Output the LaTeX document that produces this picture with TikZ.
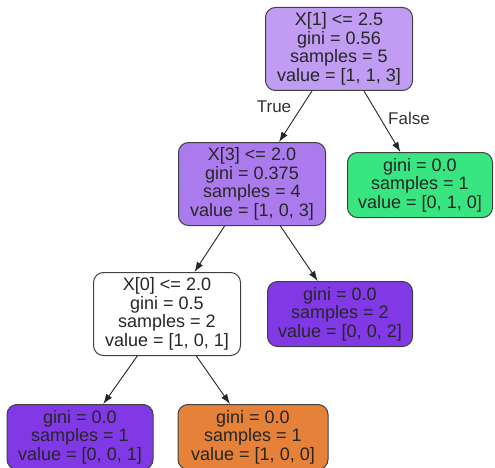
\documentclass[tikz,border=0pt]{standalone}
\usepackage{fontspec}
\setmainfont{Liberation Sans}
\usetikzlibrary{arrows.meta}
\definecolor{rootc}{HTML}{C09CF2}
\definecolor{midc}{HTML}{AB7BEE}
\definecolor{purc}{HTML}{8139E5}
\definecolor{grnc}{HTML}{39E581}
\definecolor{orgc}{HTML}{E58139}
\begin{document}
\begin{tikzpicture}[x=1pt,y=-1pt,
  tn/.style={draw=black!75, line width=1pt, rounded corners=10pt, align=center,
    inner sep=0pt, font=\fontsize{18}{18.5}\selectfont, text=black!85},
  nfour/.style={tn, minimum width=147pt, minimum height=83pt},
  nthree/.style={tn, minimum width=146pt, minimum height=65pt},
  edge/.style={draw=black!85, line width=0.9pt, -{Latex[length=10pt,width=7pt]}},
  lbl/.style={font=\fontsize{17}{17}\selectfont, text=black!80}]
\useasboundingbox[fill=white] (0,0) rectangle (495,468);
\node[nfour, fill=rootc] (root) at (339,49) {X[1] <= 2.5\\gini = 0.56\\samples = 5\\value = [1, 1, 3]};
\node[nfour, fill=midc] (x3) at (252,184) {X[3] <= 2.0\\gini = 0.375\\samples = 4\\value = [1, 0, 3]};
\node[nthree, fill=grnc, minimum width=145pt] (g) at (420,185) {gini = 0.0\\samples = 1\\value = [0, 1, 0]};
\node[nfour, fill=white] (x0) at (167,314) {X[0] <= 2.0\\gini = 0.5\\samples = 2\\value = [1, 0, 1]};
\node[nthree, fill=purc, minimum width=145pt] (p2) at (340,314) {gini = 0.0\\samples = 2\\value = [0, 0, 2]};
\node[nthree, fill=purc] (p1) at (80,437) {gini = 0.0\\samples = 1\\value = [0, 0, 1]};
\node[nthree, fill=orgc, minimum width=150pt] (o) at (253,437) {gini = 0.0\\samples = 1\\value = [1, 0, 0]};
\draw[edge] (root) -- (x3);
\draw[edge] (root) -- (g);
\draw[edge] (x3) -- (x0);
\draw[edge] (x3) -- (p2);
\draw[edge] (x0) -- (p1);
\draw[edge] (x0) -- (o);
\node[lbl] (t) at (274,107) {True};
\node[lbl] (f) at (409,118) {False};
\end{tikzpicture}
\end{document}
